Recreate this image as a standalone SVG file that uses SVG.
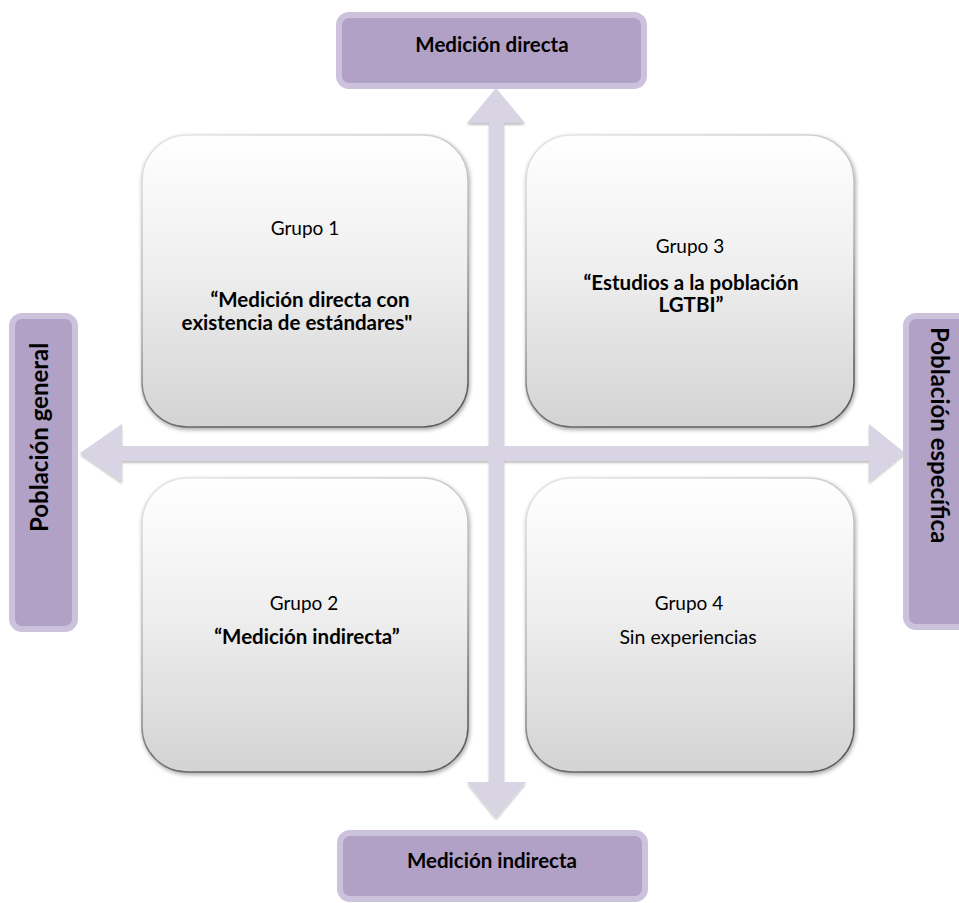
<svg xmlns="http://www.w3.org/2000/svg" width="959" height="903" viewBox="0 0 959 903">
<defs>
  <linearGradient id="boxFill" x1="0" y1="0" x2="0" y2="1">
    <stop offset="0" stop-color="#ffffff"/>
    <stop offset="0.45" stop-color="#efefef"/>
    <stop offset="1" stop-color="#d3d3d3"/>
  </linearGradient>
  <linearGradient id="boxStroke" x1="0" y1="0" x2="0.3" y2="1">
    <stop offset="0" stop-color="#e6e6e6"/>
    <stop offset="0.6" stop-color="#b0b0b0"/>
    <stop offset="1" stop-color="#5e5e5e"/>
  </linearGradient>
  <filter id="shadow" x="-10%" y="-10%" width="120%" height="120%">
    <feGaussianBlur in="SourceAlpha" stdDeviation="2"/>
    <feOffset dx="1" dy="2" result="b"/>
    <feComponentTransfer><feFuncA type="linear" slope="0.35"/></feComponentTransfer>
    <feMerge><feMergeNode/><feMergeNode in="SourceGraphic"/></feMerge>
  </filter>
  <filter id="ashadow" x="-5%" y="-20%" width="110%" height="140%">
    <feGaussianBlur in="SourceAlpha" stdDeviation="1"/>
    <feOffset dx="0" dy="2" result="b"/>
    <feComponentTransfer><feFuncA type="linear" slope="0.25"/></feComponentTransfer>
    <feMerge><feMergeNode/><feMergeNode in="SourceGraphic"/></feMerge>
  </filter>
</defs>
<style>
  .box { fill: url(#boxFill); stroke: url(#boxStroke); stroke-width: 1.5; filter: url(#shadow); }
  .lbl { fill: #b2a1c7; stroke: #cdc2dc; stroke-width: 6; }
  .arrow { fill: #d8d4e4; }
  text { font-family: Lato, "Liberation Sans", sans-serif; fill: #000; font-size: 19px; }
  .b { font-weight: bold; font-size: 20.5px; }
  .r { font-size: 24px; }
  .c { text-anchor: middle; }
</style>

<g id="connectors" filter="url(#ashadow)">
  <path class="arrow" d="M496,88 L525,123 L504,123 L504,782 L526,782 L496,818 L467,782 L489,782 L489,123 L467,123 Z"/>
  <path class="arrow" d="M80,453 L122,424 L122,446 L869,446 L869,424 L905,453 L869,482 L869,461 L122,461 L122,482 Z"/>
</g>

<g id="label-top">
  <rect class="lbl" x="339" y="15" width="305" height="71" rx="10"/>
  <text class="b c" x="492" y="52">Medición directa</text>
</g>
<g id="label-bottom">
  <rect class="lbl" x="340" y="833" width="305" height="66" rx="10"/>
  <text class="b c" x="492" y="868">Medición indirecta</text>
</g>
<g id="label-left">
  <rect class="lbl" x="12" y="316" width="63" height="313" rx="10"/>
  <text class="b r" transform="translate(48,532) rotate(-90)">Población general</text>
</g>
<g id="label-right">
  <rect class="lbl" x="906" y="316" width="62" height="311" rx="10"/>
  <text class="b r" transform="translate(931,327) rotate(90)">Población específica</text>
</g>

<g id="grupo1">
  <rect class="box" x="142" y="135" width="326" height="292" rx="45"/>
  <text class="c" x="305" y="235">Grupo 1</text>
  <text class="b c" x="310" y="307">“Medición directa con</text>
  <text class="b c" x="297" y="330">existencia de estándares"</text>
</g>
<g id="grupo3">
  <rect class="box" x="526" y="135" width="328" height="292" rx="45"/>
  <text class="c" x="690" y="253">Grupo 3</text>
  <text class="b c" x="691" y="290">“Estudios a la población</text>
  <text class="b c" x="691" y="312">LGTBI”</text>
</g>
<g id="grupo2">
  <rect class="box" x="142" y="478" width="326" height="294" rx="45"/>
  <text class="c" x="304" y="610">Grupo 2</text>
  <text class="b c" x="307" y="644">“Medición indirecta”</text>
</g>
<g id="grupo4">
  <rect class="box" x="526" y="478" width="328" height="294" rx="45"/>
  <text class="c" x="689" y="610">Grupo 4</text>
  <text class="c" x="688" y="644" style="font-size:19.5px">Sin experiencias</text>
</g>
</svg>
